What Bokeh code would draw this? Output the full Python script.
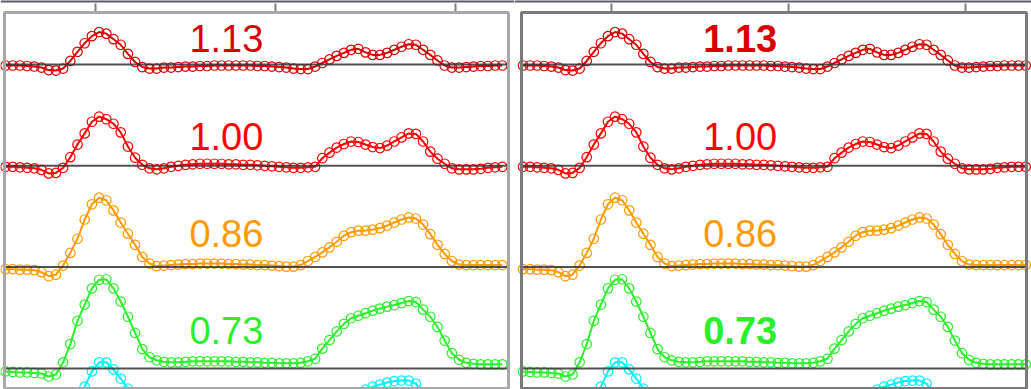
from bokeh.plotting import figure
from bokeh.layouts import row
from bokeh.models import Span, BoxAnnotation, Range1d
from bokeh.core.properties import value
from bokeh.embed import file_html
from bokeh.resources import INLINE

# ---- data ----
x = [0.50, 0.54, 0.58, 0.62, 0.66, 0.70, 0.74, 0.78, 0.82, 0.86,
     0.90, 0.94, 0.98, 1.02, 1.06, 1.10, 1.14, 1.18, 1.22, 1.26,
     1.30, 1.34, 1.38, 1.42, 1.46, 1.50, 1.54, 1.58, 1.62, 1.66,
     1.70, 1.74, 1.78, 1.82, 1.86, 1.90, 1.94, 1.98, 2.02, 2.06,
     2.10, 2.14, 2.18, 2.22, 2.26, 2.30, 2.34, 2.38, 2.42, 2.46,
     2.50, 2.54, 2.58, 2.62, 2.66, 2.70, 2.74, 2.78, 2.82, 2.86,
     2.90, 2.94, 2.98, 3.02, 3.06, 3.10, 3.14, 3.18, 3.22, 3.26,
     3.30, 3.34]

curve_113 = [-1, -1, -1, -1.5, -2, -3, -5.5, -6, -4,
             3.5, 12.5, 21, 28, 32, 30.5, 25, 19.5, 10.5, 2.5, -2.5, -4,
             -4, -3, -3, -2.5, -2, -2, -1.5, -1.5, -1, -1, -1, -1, -1, -1,
             -1.5, -1.5, -2, -2.5, -3, -4, -4.5, -4.5,
             -2, 1.5, 5, 8.5, 11.5, 14.5, 15.5, 12, 9.5, 9.5, 11.5, 14.5,
             17.5, 20, 19.5, 14.5, 9.5, 4, -1, -3, -3,
             -2.5, -2, -1.5, -1.5, -1, -1, -1, -1]

curve_100 = [-1, -1, -1.5, -2, -2.5, -4, -7.5, -7, -2,
             8.5, 21, 32, 43.5, 48.5, 46, 41.5, 33, 19, 8, 1, -2.5, -3.5,
             -2.5, -1, 0, 1, 1.5, 2, 2, 2, 2, 1.5, 1.5, 1, 1, 0.5, 0, -0.5,
             -1, -1.5, -2, -2, -1.5,
             -1, 7.5, 13, 18, 21.5, 24, 23.5, 21, 18.5, 17.5, 20, 24, 28,
             32, 31.5, 24, 14, 7, 2, -2.5, -3.5,
             -3.5, -3.5, -3, -2, -1.5, -1, -1, -1]

curve_086 = [-2, -2, -2.5, -2.5, -3, -5, -9, -7.5, 1.5,
             14, 28, 47, 62, 68.5, 66, 56, 44, 33, 22, 10, 3.5, 1,
             1.5, 2, 2.5, 3, 3, 3.5, 3.5, 3.5, 3.5, 3, 3, 2.5, 2.5, 2, 2,
             1.5, 1, 0.5, 0.5,
             2, 6, 10, 14.5, 19.5, 25, 31, 34.5, 36, 36, 37, 38.5, 41, 44,
             47, 49, 48, 42, 32.5, 22, 13, 6, 2.5,
             2, 2, 2, 2, 2, 2, 2, 2]

curve_073 = [-3, -3.5, -4, -4, -4.5, -5, -8, -6, 6,
             24, 47, 63, 79, 87.5, 88, 79, 66, 51, 35, 19, 11, 8, 6.5,
             6, 6, 6.5, 7, 7, 7, 7, 7, 7, 6.5, 6.5, 6, 6, 5.5, 5.5, 5, 5,
             5, 5.5, 7,
             9.5, 19.5, 28, 36.5, 44, 49.5, 52, 54.5, 57, 59, 61, 62.5,
             64.5, 66.5, 65.5, 58, 51, 41, 27.5, 15, 8.5,
             5.5, 4.5, 4, 4, 4, 4, 4, 4]

curve_060 = [-3, -3, -3, -3, -3, -5, -8, -6, 8,
             35, 62, 82, 97, 106, 106, 99, 90, 80, 50, 28, 16, 11,
             9, 8, 8, 8, 8, 8, 8, 8, 8, 8, 8, 8, 8, 8, 8, 8, 8, 8, 8, 9,
             11, 16, 28, 40, 52, 62, 70, 75, 79, 82, 84, 86, 87.5, 88, 88,
             85, 74, 60, 45, 30, 18, 10,
             6, 6, 6, 6, 6, 6, 6, 6]

curves = [curve_113, curve_100, curve_086, curve_073, curve_060]
offsets = [0, -100, -200, -300, -400]
labels = ["1.13", "1.00", "0.86", "0.73", None]
colors = ["#d80000", "#ff0000", "#ff9900", "#2bef2b", "#00f0ff"]
label_lift = [25.5, 28.5, 33.5, 37]
label_x = 1.727
ticks = [1, 2, 3]
styles_left = ["normal", "normal", "normal", "normal"]
styles_right = ["bold", "normal", "normal", "bold"]

# ---- layout constants (pixels) ----
H = 389
PXY = 1.013            # pixels per y unit
Y_TOP = 64 / PXY       # data value at the top edge of the canvas
Y_BOT = Y_TOP - H / PXY
PANEL_TOP = Y_TOP - 12 / PXY
PANEL_BOT = Y_TOP - 388 / PXY
TICK_TOP = Y_TOP - 3 / PXY


def make_panel(width, px_per_x, tick1_px, left_px, right_px, outline_color,
               styles):
    x0 = 1 - tick1_px / px_per_x
    x1 = x0 + width / px_per_x
    xl = x0 + left_px / px_per_x
    xr = x0 + right_px / px_per_x
    p = figure(width=width, height=H, output_backend="svg",
               toolbar_location=None, x_axis_location=None,
               y_axis_location=None,
               x_range=Range1d(x0, x1), y_range=Range1d(Y_BOT, Y_TOP),
               min_border=0)
    p.grid.visible = False
    p.outline_line_color = None
    p.background_fill_color = "white"
    p.border_fill_color = "white"

    # top dark rule of the page
    p.add_layout(Span(location=Y_TOP, dimension="width",
                      line_color="#5a5f66", line_width=4))
    # ticks above the panel
    p.segment(x0=ticks, x1=ticks, y0=[PANEL_TOP] * len(ticks),
              y1=[TICK_TOP] * len(ticks), line_color="#808080",
              line_width=2)

    keep = [i for i, v in enumerate(x) if xl <= v <= xr]
    xs = [x[i] for i in keep]
    for c, off, col in zip(curves, offsets, colors):
        ys = [c[i] + off for i in keep]
        p.line(xs, ys, line_color=col, line_width=2)
        p.scatter(xs, ys, marker="circle", size=9.5, fill_color=None,
                  line_color=col, line_width=1.2)

    # baselines
    p.segment(x0=[xl] * len(offsets), x1=[xr] * len(offsets),
              y0=offsets, y1=offsets, line_color="#333333", line_width=2,
              line_alpha=0.85)

    for i, (lbl, off, col) in enumerate(zip(labels, offsets, colors)):
        if lbl is None:
            continue
        p.text(x=[label_x], y=[off + label_lift[i]], text=[lbl],
               text_color=col, text_font=value("Liberation Sans"),
               text_font_size="38px", text_align="center",
               text_baseline="alphabetic", text_font_style=styles[i])

    # panel frame
    p.add_layout(BoxAnnotation(left=xl, right=xr, top=PANEL_TOP,
                               bottom=PANEL_BOT, fill_color=None,
                               fill_alpha=0, line_alpha=1,
                               line_color=outline_color, line_width=3))
    return p


p1 = make_panel(514, 180, 95, 4, 508, "#a8a8a8", styles_left)
p2 = make_panel(517, 177, 97, 7, 512, "#7a7a7a", styles_right)

layout = row(p1, p2, spacing=0)
open("out.html", "w").write(file_html(layout, INLINE))
